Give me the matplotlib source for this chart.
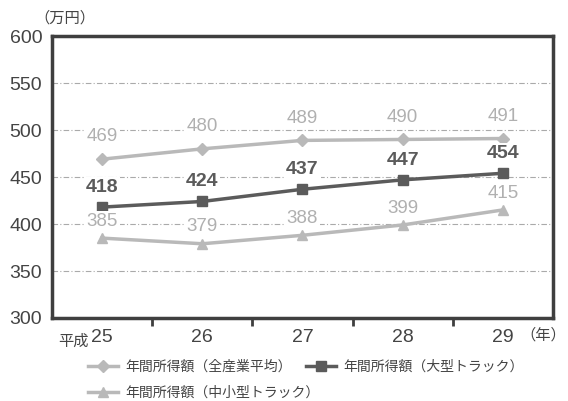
import matplotlib
matplotlib.use("Agg")
import matplotlib.pyplot as plt

plt.rcParams["font.family"] = ["Liberation Sans", "Noto Sans CJK JP", "DejaVu Sans"]

# 年度（平成）
anios = ["25", "26", "27", "28", "29"]
# 年間所得額（万円）
todos = [469, 480, 489, 490, 491]
grandes = [418, 424, 437, 447, 454]
medianos = [385, 379, 388, 399, 415]

nombres = [
    "年間所得額（全産業平均）",
    "年間所得額（大型トラック）",
    "年間所得額（中小型トラック）",
]

gris_claro = "#b9b9b9"
gris_oscuro = "#5b5b5b"
marco = "#3f3f3f"
texto = "#444444"

fig = plt.figure(figsize=(5.68, 4.01), dpi=100)
ax = fig.add_axes([0.0915, 0.207, 0.882, 0.703])

x = list(range(len(anios)))

l1, = ax.plot(x, todos, color=gris_claro, lw=2.5, marker="D", ms=6, label=nombres[0])
l2, = ax.plot(x, grandes, color=gris_oscuro, lw=2.5, marker="s", ms=7, label=nombres[1])
l3, = ax.plot(x, medianos, color=gris_claro, lw=2.5, marker="^", ms=7, label=nombres[2])

# Etiquetas de valores (fondo blanco que corta la cuadrícula)
fondo = dict(boxstyle="square,pad=0.1", fc="white", ec="none")
for xi, v in zip(x, todos):
    ax.annotate(str(v), (xi, v), xytext=(0, 10), textcoords="offset points",
                ha="center", va="bottom", fontsize=13.5, color="#b0b0b0", bbox=fondo)
for xi, v in zip(x, grandes):
    ax.annotate(str(v), (xi, v), xytext=(0, 8), textcoords="offset points",
                ha="center", va="bottom", fontsize=14, color=gris_oscuro,
                fontweight="bold", bbox=fondo)
for xi, v in zip(x, medianos):
    ax.annotate(str(v), (xi, v), xytext=(0, 6), textcoords="offset points",
                ha="center", va="bottom", fontsize=13.5, color="#b0b0b0", bbox=fondo)

ax.set_xlim(-0.5, len(anios) - 0.5)
ax.set_ylim(300, 600)
ax.set_yticks(range(300, 601, 50))
ax.set_xticks(x)
ax.set_xticklabels(anios)
ax.set_xticks([i + 0.5 for i in x[:-1]], minor=True)
ax.tick_params(axis="x", which="major", length=0, labelsize=14, colors=texto, pad=8)
ax.tick_params(axis="x", which="minor", length=6, width=2, color=marco, direction="out")
ax.tick_params(axis="y", length=0, labelsize=14, colors=texto, pad=7)

ax.grid(axis="y", color="#aaaaaa", linestyle=(0, (5, 2, 1, 2)), lw=0.8)
for s in ax.spines.values():
    s.set_color(marco)
    s.set_linewidth(2.5)

ax.text(-0.44, -0.085, "平成", transform=ax.get_xaxis_transform(), ha="left",
        va="center", fontsize=11, color=texto)
fig.text(0.997, 0.165, "（年）", ha="right", va="center", fontsize=11, color=texto)
fig.text(0.06, 0.955, "（万円）", ha="left", va="center", fontsize=11, color=texto)

# Leyenda en dos filas: dos series arriba, la tercera debajo
estilo = dict(frameon=False, fontsize=10, handlelength=2.2, handletextpad=0.5,
              columnspacing=1.0, borderaxespad=0, labelcolor=texto)
fig.legend(handles=[l1, l2], loc="center left", bbox_to_anchor=(0.145, 0.085),
           ncol=2, **estilo)
fig.legend(handles=[l3], loc="center left", bbox_to_anchor=(0.145, 0.02), **estilo)

fig.savefig("out.png", dpi=100)
